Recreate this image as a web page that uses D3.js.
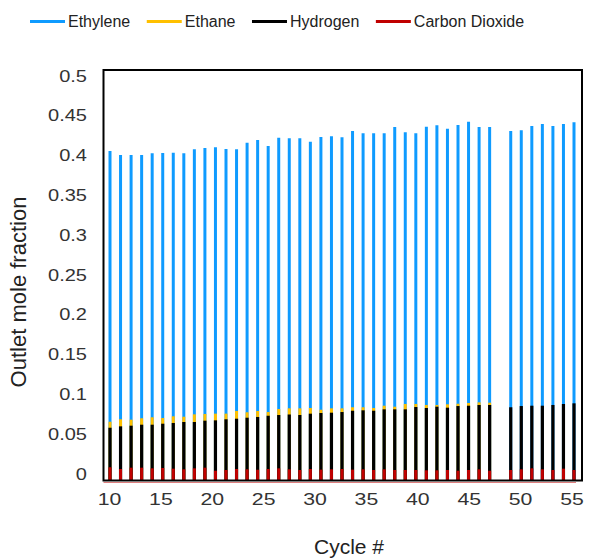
<!DOCTYPE html>
<html><head><meta charset="utf-8">
<script src="https://cdn.jsdelivr.net/npm/d3@7"></script>
<style>body{margin:0;background:#fff;} text{font-family:"Liberation Sans",Arial,sans-serif;}</style>
</head><body><svg id="c" width="610" height="559"></svg>
<script>
// ---- data ----
const cycles = [10,11,12,13,14,15,16,17,18,19,20,21,22,23,24,25,26,27,28,29,30,31,32,33,34,35,36,37,38,39,40,41,42,43,44,45,46,47,48,49,50,51,52,53,54];
const ethylene = [0.4015,0.3966,0.3966,0.3966,0.3987,0.399,0.3994,0.3987,0.4035,0.4051,0.406,0.4039,0.4035,0.4116,0.4148,0.4075,0.4176,0.4169,0.4169,0.4128,0.4185,0.4193,0.4181,0.4258,0.423,0.423,0.423,0.4307,0.4242,0.423,0.431,0.4327,0.4286,0.4331,0.4371,0.4307,0.4307,null,0.4258,0.4266,0.4319,0.4343,0.4319,0.4343,0.4364];
const ethane = [0.0721,0.0751,0.0746,0.0763,0.0775,0.0766,0.0787,0.0782,0.0811,0.0815,0.0819,0.0819,0.0852,0.0836,0.0852,0.0839,0.0876,0.0884,0.0884,0.0888,0.0867,0.0884,0.0884,0.0897,0.0897,0.0888,0.0916,0.0904,0.0937,0.0937,0.0925,0.0925,0.0933,0.094,0.0949,0.0957,0.0953,null,null,null,null,null,null,null,null];
const hydrogen = [0.0648,0.0665,0.0673,0.0685,0.0685,0.0697,0.0706,0.0718,0.0718,0.0734,0.0738,0.0751,0.0758,0.077,0.0779,0.0794,0.0803,0.0809,0.0803,0.0819,0.0827,0.0831,0.0839,0.0855,0.086,0.0855,0.0872,0.0872,0.0872,0.09,0.0888,0.0904,0.0892,0.0912,0.0916,0.0925,0.0925,null,0.0897,0.0912,0.0916,0.0916,0.0925,0.0937,0.0945];
const carbonDioxide = [0.0167,0.0146,0.0162,0.0162,0.0154,0.0158,0.015,0.0142,0.0154,0.0162,0.0125,0.0134,0.0146,0.0142,0.0137,0.0146,0.0154,0.0142,0.0134,0.0146,0.0138,0.0142,0.0146,0.0138,0.0142,0.0134,0.0142,0.0134,0.0134,0.0134,0.013,0.013,0.0134,0.0125,0.0134,0.0142,0.0125,null,0.0134,0.0142,0.0154,0.0142,0.0134,0.015,0.0134];
const seriesNames = ["Ethylene","Ethane","Hydrogen","Carbon Dioxide"];
const seriesColors = ["#0f9bff","#ffc000","#000000","#c00000"];
const xTicks = [10,15,20,25,30,35,40,45,50,55];
const yTicks = [0,0.05,0.1,0.15,0.2,0.25,0.3,0.35,0.4,0.45,0.5];

// ---- layout ----
const svg = d3.select("#c");
const frame = {left:103.5, right:582, top:70, bottom:480.5};

const xBar = d3.scalePoint().domain(cycles).range([110, 574]);
const y = d3.scaleLinear().domain([0, 0.5]).range([481, frame.top]);
const xAxisScale = d3.scaleLinear().domain([10, 55]).range([109, 571.5]);
const yLabelScale = d3.scaleLinear().domain([0, 0.5]).range([473.5, 75.5]);

const series = [ethylene, ethane, hydrogen, carbonDioxide];
const widths = [3, 3, 3.2, 3];

// bars drawn as overlapping vertical lines from zero
series.forEach((vals, si) => {
  svg.append("g").selectAll("line")
    .data(cycles.map((c, i) => ({c, v: vals[i]})).filter(d => d.v != null))
    .join("line")
    .attr("x1", d => xBar(d.c)).attr("x2", d => xBar(d.c))
    .attr("y1", y(0)).attr("y2", d => y(d.v))
    .attr("stroke", seriesColors[si])
    .attr("stroke-width", widths[si]);
});

// thin red baseline under the axis
svg.append("line").attr("x1", frame.left).attr("x2", 576)
  .attr("y1", 482.5).attr("y2", 482.5)
  .attr("stroke", "#c00000").attr("stroke-width", 1).attr("opacity", 0.5);

// frame
svg.append("rect")
  .attr("x", frame.left).attr("y", frame.top)
  .attr("width", frame.right - frame.left).attr("height", frame.bottom - frame.top)
  .attr("fill", "none").attr("stroke", "#000").attr("stroke-width", 2);

// y axis labels
const gy = svg.append("g").attr("transform", "translate(87,0)")
  .call(d3.axisLeft(yLabelScale).tickValues(yTicks).tickSize(0).tickPadding(0)
    .tickFormat(d => d3.format("")(+d.toFixed(2))));
gy.select(".domain").remove();
gy.selectAll("text").attr("x", 0).attr("dy", "0.35em")
  .style("font-size", "16px").attr("fill", "#333")
  .attr("transform", "scale(1.25,1)");

// x axis labels
const gx = svg.append("g").attr("transform", "translate(0,499)")
  .call(d3.axisBottom(xAxisScale).tickValues(xTicks).tickSize(0).tickPadding(0));
gx.select(".domain").remove();
gx.selectAll("text").attr("y", 0).attr("dy", "0.35em")
  .style("font-size", "17px").attr("fill", "#333")
  .attr("transform", "scale(1.25,1)");

// axis titles
svg.append("text").attr("x", 349).attr("y", 547).attr("dy", "0.35em")
  .attr("text-anchor", "middle").style("font-size", "21px").attr("fill", "#222")
  .text("Cycle #");
svg.append("text").attr("transform", "translate(18,292) rotate(-90)")
  .attr("dy", "0.35em").attr("text-anchor", "middle")
  .style("font-size", "22px").attr("fill", "#222")
  .text("Outlet mole fraction");

// legend
const lg = svg.append("g");
let lx = 30;
seriesNames.forEach((name, i) => {
  lg.append("line").attr("x1", lx).attr("x2", lx + 35)
    .attr("y1", 21.5).attr("y2", 21.5)
    .attr("stroke", seriesColors[i]).attr("stroke-width", 3);
  const t = lg.append("text").attr("x", lx + 38).attr("y", 21.5).attr("dy", "0.35em")
    .style("font-size", "16px").attr("fill", "#222").text(name);
  lx += 38 + t.node().getComputedTextLength() + 16.5;
});
</script></body></html>
